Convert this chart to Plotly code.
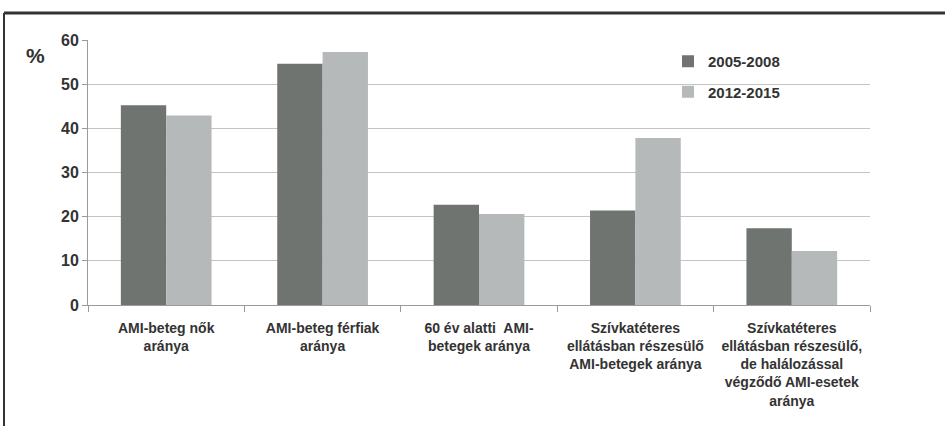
import plotly.graph_objects as go

categories = [
    "AMI-beteg nők<br>aránya",
    "AMI-beteg férfiak<br>aránya",
    "60 év alatti  AMI-<br>betegek aránya",
    "Szívkatéteres<br>ellátásban részesülő<br>AMI-betegek aránya",
    "Szívkatéteres<br>ellátásban részesülő,<br>de halálozással<br>végződő AMI-esetek<br>aránya",
]
series_2005_2008 = [45.2, 54.6, 22.7, 21.4, 17.4]
series_2012_2015 = [42.9, 57.3, 20.6, 37.8, 12.2]
y_ticks = [0, 10, 20, 30, 40, 50, 60]

FONT = "Liberation Sans Narrow, Arial Narrow, Liberation Sans, Arial"
TXT = "#333333"

fig = go.Figure()
fig.add_trace(go.Bar(name="2005-2008", x=categories, y=series_2005_2008,
                     marker=dict(color="#6f7471", line=dict(width=0)),
                     legendgroup="a"))
fig.add_trace(go.Bar(name="2012-2015", x=categories, y=series_2012_2015,
                     marker=dict(color="#b5b9b9", line=dict(width=0)),
                     legendgroup="b"))

L, R, T, B = 88, 75, 40, 121
W, H = 945, 426
pw, ph = W - L - R, H - T - B

def px(x):
    return (x - L) / pw

def py(y):
    return (H - B - y) / ph

fig.update_layout(
    width=W, height=H,
    margin=dict(l=L, r=R, t=T, b=B, autoexpand=False),
    paper_bgcolor="white", plot_bgcolor="white",
    barmode="group", bargap=0.42, bargroupgap=0,
    font=dict(family=FONT, size=14, color=TXT),
    showlegend=True,
    legend=dict(x=px(668), y=py(45), xanchor="left", yanchor="top",
                bgcolor="rgba(0,0,0,0)", tracegroupgap=8,
                font=dict(family=FONT, size=15, color=TXT, weight="bold"),
                itemwidth=30),
    xaxis=dict(showline=True, linecolor="#9a9a9a", linewidth=1,
               ticks="outside", tickson="boundaries", ticklen=6,
               tickcolor="#9a9a9a", ticklabelstandoff=10, tickangle=0,
               automargin=False,
               tickfont=dict(family=FONT, size=14, color=TXT, weight="bold"),
               fixedrange=True),
    yaxis=dict(range=[0, 60], tickvals=y_ticks, showline=True,
               linecolor="#9a9a9a", linewidth=1, ticks="outside", ticklen=5,
               tickcolor="#9a9a9a", gridcolor="#c4c4c4", gridwidth=1,
               automargin=False,
               tickfont=dict(family=FONT, size=16, color=TXT, weight="bold"),
               zeroline=False, fixedrange=True),
    annotations=[dict(text="<b>%</b>", x=px(36), y=py(55), xref="paper",
                      yref="paper", xanchor="center", yanchor="middle",
                      showarrow=False,
                      font=dict(family=FONT, size=21, color=TXT))],
    shapes=[
        dict(type="line", xref="paper", yref="paper", x0=px(4), x1=px(945),
             y0=py(13), y1=py(13), line=dict(color="#333333", width=3)),
        dict(type="line", xref="paper", yref="paper", x0=px(4), x1=px(4),
             y0=py(13), y1=py(426), line=dict(color="#333333", width=2)),
    ],
)

fig.write_html("out.html")
